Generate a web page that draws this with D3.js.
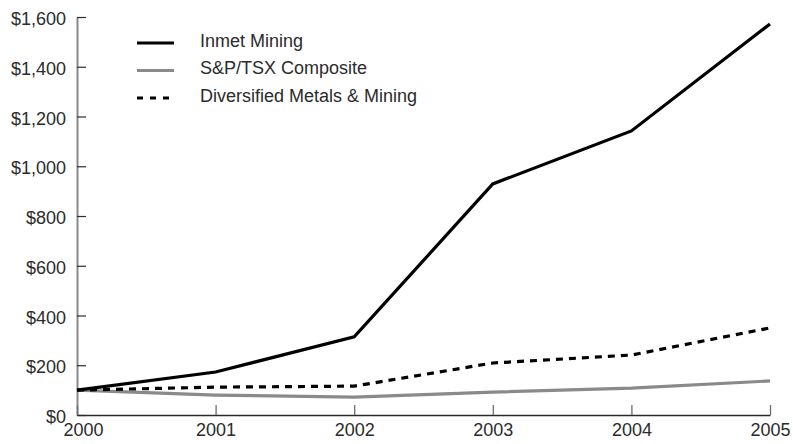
<!DOCTYPE html>
<html>
<head>
<meta charset="utf-8">
<script src="https://cdn.jsdelivr.net/npm/d3@7"></script>
<style>
  body { margin: 0; background: #fff; }
  text { font-family: "Liberation Sans", Arial, sans-serif; fill: #2b2b2b; }
</style>
</head>
<body>
<div id="vis"></div>
<script>
const years = [2000, 2001, 2002, 2003, 2004, 2005];
const inmet = [100, 173, 314, 929, 1142, 1572];
const tsx = [100, 80, 72, 92, 108, 137];
const metals = [100, 112, 116, 209, 241, 350];
const yTicks = [0, 200, 400, 600, 800, 1000, 1200, 1400, 1600];

const visWidth = 793;
const visHeight = 444;

const margin = {top: 17, right: 23, bottom: 29, left: 77};

const width = visWidth - margin.left - margin.right;
const height = visHeight - margin.top - margin.bottom;

const fontSize = 18;

const series = [
  {name: 'Inmet Mining', values: inmet, color: '#000', dash: null},
  {name: 'S&P/TSX Composite', values: tsx, color: '#8a8a8a', dash: null},
  {name: 'Diversified Metals & Mining', values: metals, color: '#000', dash: '7,6'},
];

const svg = d3.select('#vis').append('svg')
    .attr('width', visWidth)
    .attr('height', visHeight)
  .append('g')
    .attr('transform', `translate(${margin.left}, ${margin.top})`);

const x = d3.scaleLinear()
    .domain([2000, 2005])
    .range([0, width]);

const y = d3.scaleLinear()
    .domain([0, 1600])
    .range([height, 0]);

// y axis, ticks pointing inward
const yAxis = svg.append('g')
    .call(d3.axisRight(y)
      .tickValues(yTicks)
      .tickSize(9)
      .tickSizeOuter(0)
      .tickFormat(d => '$' + d3.format(',')(d)));
yAxis.select('.domain').attr('stroke', '#8a8a8a').attr('stroke-width', 2);
yAxis.selectAll('.tick line').attr('stroke', '#2b2b2b').attr('stroke-width', 1.2);
yAxis.selectAll('.tick text')
    .attr('x', -11)
    .attr('dy', '0.42em')
    .attr('text-anchor', 'end')
    .attr('font-size', fontSize)
    .attr('font-family', '"Liberation Sans", Arial, sans-serif')
    .attr('fill', '#2b2b2b');

// x axis
const xAxis = svg.append('g')
    .attr('transform', `translate(0, ${height})`)
    .call(d3.axisTop(x)
      .tickValues(years)
      .tickSize(10)
      .tickSizeOuter(0)
      .tickFormat(d3.format('d')));
xAxis.select('.domain').attr('stroke', '#2b2b2b').attr('stroke-width', 1.5);
xAxis.selectAll('.tick line').attr('stroke', '#6d6d6d').attr('stroke-width', 1.3);
xAxis.selectAll('.tick text')
    .attr('x', (d, i) => i === 0 ? 6 : 0)
    .attr('y', 21)
    .attr('dy', 0)
    .attr('font-size', fontSize)
    .attr('font-family', '"Liberation Sans", Arial, sans-serif')
    .attr('fill', '#2b2b2b');

const line = d3.line()
    .x((d, i) => x(years[i]))
    .y(d => y(d));

// grey first, then dashed, then Inmet on top
[series[1], series[2], series[0]].forEach(s => {
  svg.append('path')
      .datum(s.values)
      .attr('d', line)
      .attr('fill', 'none')
      .attr('stroke', s.color)
      .attr('stroke-width', 3.2)
      .attr('stroke-dasharray', s.dash);
});

// legend
const legend = svg.append('g')
    .attr('transform', 'translate(60, 26)');

legend.selectAll('g')
  .data(series)
  .join('g')
    .attr('transform', (d, i) => `translate(0, ${i * 27.5})`)
    .each(function(d) {
      const g = d3.select(this);
      g.append('line')
          .attr('x1', 0)
          .attr('x2', 37)
          .attr('stroke', d.color)
          .attr('stroke-width', 3.2)
          .attr('stroke-dasharray', d.dash ? '6,7' : null);
      g.append('text')
          .attr('x', 63)
          .attr('dy', '0.2em')
          .attr('font-size', fontSize)
          .text(d.name);
    });
</script>
</body>
</html>
